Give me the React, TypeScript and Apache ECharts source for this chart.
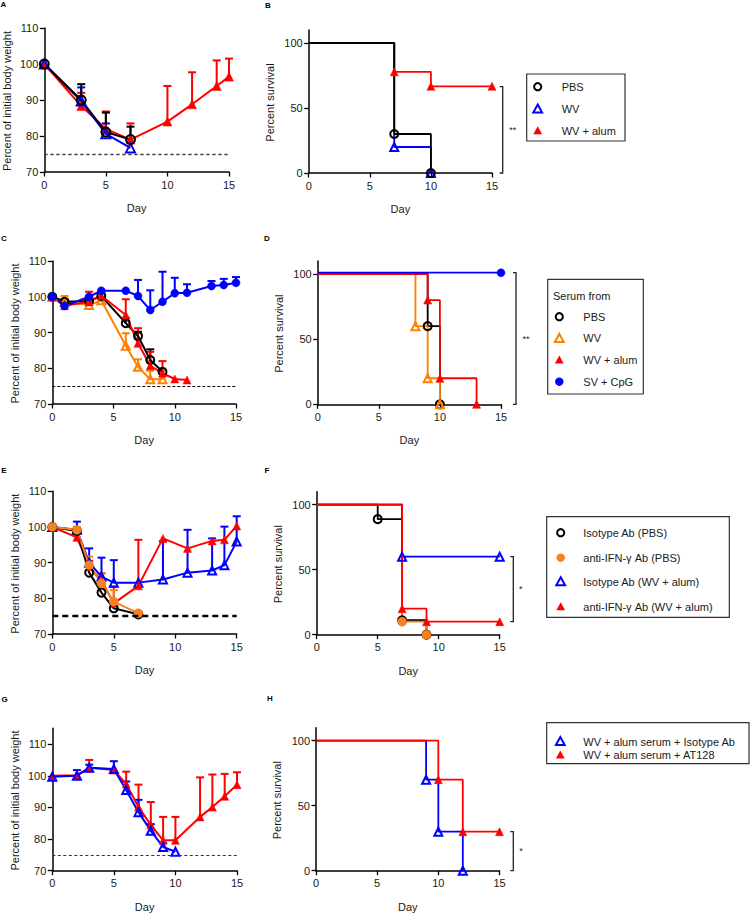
import React, { useEffect, useRef } from "react";
import * as echarts from "echarts";

const FONT = "'Liberation Sans', Arial, Helvetica, sans-serif";
const THRESHOLD = 75;

const C_BLACK = "#000000";
const C_BLUE = "#0000ff";
const C_RED = "#ff0000";
const C_ORANGE = "#ff8000";
const C_ORANGE_F = "#f58220";

// ---------- Panel A (body weight) ----------
const A_PBS_DAY = [0, 3, 5, 7];
const A_PBS_MEAN = [100, 90, 81.1, 79];
const A_PBS_UP = [100, 94.4, 86.5, 82.6];
const A_WV_DAY = [0, 3, 5, 7];
const A_WV_MEAN = [100, 89.7, 80.6, 76.7];
const A_WV_UP = [100, 93.5, 83.5, 76.7];
const A_ALUM_DAY = [0, 3, 5, 7, 10, 12, 14, 15];
const A_ALUM_MEAN = [100, 88.3, 82, 79, 84, 88.8, 93.9, 96.5];
const A_ALUM_UP = [100, 92, 86.8, 83.5, 93.9, 97.7, 101, 101.5];

// ---------- Panel B (survival) ----------
const B_GROUPS = ["PBS", "WV", "WV + alum"];
const B_PBS_DAY = [0, 7, 10];
const B_PBS_SURV = [100, 30, 0];
const B_WV_DAY = [0, 7, 10];
const B_WV_SURV = [100, 20, 0];
const B_ALUM_DAY = [0, 7, 10, 15];
const B_ALUM_SURV = [100, 77.8, 66.7, 66.7];

// ---------- Panel C (body weight) ----------
const C_PBS_DAY = [0, 1, 3, 4, 6, 7, 8, 9];
const C_PBS_MEAN = [100, 98.6, 98.8, 100.2, 92.6, 89, 82.3, 79];
const C_PBS_UP = [100, 99.3, 100, 101, 94, 90.2, 85.3, 79.5];
const C_WV_DAY = [0, 1, 3, 4, 6, 7, 8, 9];
const C_WV_MEAN = [100, 98.5, 97.7, 99, 86.3, 80.4, 76.9, 76.9];
const C_WV_UP = [100, 100.2, 98.8, 100, 89.8, 82.5, 79.3, 79.3];
const C_ALUM_DAY = [0, 1, 3, 4, 6, 7, 8, 9, 10, 11];
const C_ALUM_MEAN = [100, 97.5, 98.6, 100.3, 94.9, 87, 80.7, 78.6, 77, 76.7];
const C_ALUM_UP = [100, 99.2, 101.4, 101.5, 99.3, 91.2, 84.6, 82, 77, 76.7];
const C_CPG_DAY = [0, 1, 3, 4, 6, 7, 8, 9, 10, 11, 13, 14, 15];
const C_CPG_MEAN = [100, 97.4, 100, 101.7, 101.7, 100.2, 96.3, 98.6, 101, 101.1, 103, 103.3, 103.9];
const C_CPG_UP = [100, 97.4, 100, 101.9, 101.7, 104.7, 101.8, 107, 105.3, 103.5, 104.4, 105, 105.5];

// ---------- Panel D (survival) ----------
const D_TITLE = "Serum from";
const D_GROUPS = ["PBS", "WV", "WV + alum", "SV + CpG"];
const D_PBS_DAY = [0, 9, 10];
const D_PBS_SURV = [100, 60, 0];
const D_WV_DAY = [0, 8, 9, 10];
const D_WV_SURV = [100, 60, 20, 0];
const D_ALUM_DAY = [0, 9, 10, 13];
const D_ALUM_SURV = [100, 80, 20, 0];
const D_CPG_DAY = [0, 15];
const D_CPG_SURV = [101, 101];

// ---------- Panel E (body weight) ----------
const E_ISOPBS_DAY = [0, 2, 3, 4, 5, 7];
const E_ISOPBS_MEAN = [100, 98.9, 87.2, 81.6, 77.2, 75.5];
const E_ISOPBS_UP = [100, 98.9, 87.2, 81.6, 77.2, 75.5];
const E_ANTIPBS_DAY = [0, 2, 3, 4, 5, 7];
const E_ANTIPBS_MEAN = [100, 99.2, 89.3, 84.2, 79.1, 75.8];
const E_ANTIPBS_UP = [100, 100, 91.7, 87, 82.3, 75.8];
const E_ISOALUM_DAY = [0, 2, 3, 4, 5, 7, 9, 11, 13, 14, 15];
const E_ISOALUM_MEAN = [100, 99.2, 90, 86.1, 84.4, 84.4, 85.3, 87.2, 87.8, 89.3, 95.9];
const E_ISOALUM_UP = [100, 101.5, 94, 91.4, 90.7, 84.4, 96, 99.2, 96.8, 100.1, 103];
const E_ANTIALUM_DAY = [0, 2, 3, 4, 5, 7, 9, 11, 13, 14, 15];
const E_ANTIALUM_MEAN = [100, 97.1, 88.9, 84.9, 78.6, 83.5, 96.8, 94, 96.1, 96.4, 100.3];
const E_ANTIALUM_UP = [100, 97.1, 90.5, 87, 83.3, 96.4, 96.8, 94, 96.1, 96.4, 100.3];

// ---------- Panel F (survival) ----------
const F_GROUPS = ["Isotype Ab (PBS)", "anti-IFN-\u03b3 Ab (PBS)", "Isotype Ab (WV + alum)", "anti-IFN-\u03b3 Ab (WV + alum)"];
const F_ISOPBS_DAY = [0, 5, 7, 9];
const F_ISOPBS_SURV = [100, 88.9, 11.1, 0];
const F_ANTIPBS_DAY = [0, 7, 9];
const F_ANTIPBS_SURV = [100, 10, 0];
const F_ISOALUM_DAY = [0, 7, 15];
const F_ISOALUM_SURV = [100, 60, 60];
const F_ANTIALUM_DAY = [0, 7, 9, 15];
const F_ANTIALUM_SURV = [100, 20, 10, 10];

// ---------- Panel G (body weight) ----------
const G_ISO_DAY = [0, 2, 3, 5, 6, 7, 8, 9, 10];
const G_ISO_MEAN = [99.7, 100, 102.5, 102.1, 95.5, 88.5, 82.6, 77.5, 76];
const G_ISO_UP = [99.7, 101.8, 103.5, 104.6, 98.2, 92.4, 84.7, 78.8, 76];
const G_AT_DAY = [0, 2, 3, 5, 6, 7, 8, 9, 10, 12, 13, 14, 15];
const G_AT_MEAN = [100, 100.2, 102.5, 101.8, 97.4, 90.1, 84.5, 79.6, 79.6, 87, 90.1, 93.5, 97.2];
const G_AT_UP = [100, 100.2, 105, 102, 101.3, 97.2, 91.7, 87, 87, 99.5, 100.4, 100.6, 101.1];

// ---------- Panel H (survival) ----------
const H_GROUPS = ["WV + alum serum + Isotype Ab", "WV + alum serum + AT128"];
const H_ISO_DAY = [0, 9, 10, 12];
const H_ISO_SURV = [100, 70, 30, 0];
const H_AT_DAY = [0, 10, 12, 15];
const H_AT_SURV = [100, 70, 30, 30];

const WEIGHT_TICKS = [70, 80, 90, 100, 110];
const SURV_TICKS = [0, 50, 100];
const WEIGHT_TITLE = "Percent of initial body weight";
const SURV_TITLE = "Percent survival";
const X_TITLE = "Day";
const PANEL_LETTERS = ["A", "B", "C", "D", "E", "F", "G", "H"];
const SIG = ["**", "**", "*", "*"];

// ---------- layout ----------
const GRIDS = [
  { left: 44.3, top: 28, width: 184.7, height: 144 },
  { left: 308.7, top: 30, width: 183.3, height: 143 },
  { left: 52.3, top: 261, width: 183.7, height: 143 },
  { left: 317.7, top: 261, width: 183.3, height: 143.3 },
  { left: 52.3, top: 491.3, width: 184.4, height: 142.7 },
  { left: 316.7, top: 491.7, width: 183, height: 143 },
  { left: 52.3, top: 728.3, width: 184.7, height: 142.4 },
  { left: 316, top: 727.7, width: 183.5, height: 143 },
];
const LETTER_POS = [[3.5, 4.5], [268, 5.5], [4, 238.5], [267, 238.5], [4, 470.5], [267, 470], [4.5, 699.5], [270, 698.3]];

type Mk = { symbol: string; open: boolean; color: string };
const MK_PBS: Mk = { symbol: "circle", open: true, color: C_BLACK };
const MK_WV_BLUE: Mk = { symbol: "triangle", open: true, color: C_BLUE };
const MK_ALUM: Mk = { symbol: "triangle", open: false, color: C_RED };
const MK_WV_OR: Mk = { symbol: "triangle", open: true, color: C_ORANGE };
const MK_CPG: Mk = { symbol: "circle", open: false, color: C_BLUE };
const MK_ANTI_PBS: Mk = { symbol: "circle", open: false, color: C_ORANGE_F };

function itemStyleOf(m: Mk) {
  return m.open
    ? { color: "rgba(255,255,255,0)", borderColor: m.color, borderWidth: 2 }
    : { color: m.color, borderColor: m.color, borderWidth: 0.5 };
}

function errRender(color: string) {
  return (params: any, api: any) => {
    const x = api.value(0);
    const m = api.value(1);
    const u = api.value(2);
    if (u - m < 0.6) return { type: "group", children: [] };
    const p = api.coord([x, m]);
    const q = api.coord([x, u]);
    return {
      type: "group",
      children: [
        { type: "line", shape: { x1: p[0], y1: p[1], x2: q[0], y2: q[1] }, style: { stroke: color, lineWidth: 2 } },
        { type: "line", shape: { x1: q[0] - 4, y1: q[1], x2: q[0] + 4, y2: q[1] }, style: { stroke: color, lineWidth: 2 } },
      ],
    };
  };
}

function weightSeries(gi: number, days: number[], mean: number[], up: number[], m: Mk, size: number, dashed?: any) {
  const err = {
    type: "custom",
    xAxisIndex: gi,
    yAxisIndex: gi,
    z: 2,
    silent: true,
    clip: false,
    encode: { x: 0, y: 1 },
    data: days.map((d, i) => [d, mean[i], up[i]]),
    renderItem: errRender(m.color),
  };
  const line: any = {
    type: "line",
    xAxisIndex: gi,
    yAxisIndex: gi,
    z: 3,
    silent: true,
    clip: false,
    data: days.map((d, i) => [d, mean[i]]),
    symbol: m.symbol,
    symbolSize: size,
    itemStyle: itemStyleOf(m),
    lineStyle: { color: m.color, width: 2 },
  };
  if (dashed) {
    line.markLine = {
      silent: true,
      symbol: ["none", "none"],
      label: { show: false },
      lineStyle: dashed,
      data: [{ yAxis: THRESHOLD }],
    };
  }
  return [err, line];
}

function survSeries(gi: number, days: number[], surv: number[], m: Mk, size = 8) {
  return {
    type: "line",
    step: "end",
    xAxisIndex: gi,
    yAxisIndex: gi,
    z: 3,
    silent: true,
    clip: false,
    data: days.map((d, i) => (i === 0 ? { value: [d, surv[i]], symbol: "none" } : [d, surv[i]])),
    symbol: m.symbol,
    symbolSize: size,
    itemStyle: itemStyleOf(m),
    lineStyle: { color: m.color, width: 1.8 },
  };
}

const axisLineStyle = { show: true, onZero: false, lineStyle: { color: "#000", width: 1.5 } };
const axisTickStyle = { show: true, length: 4.5, lineStyle: { color: "#000", width: 1.3 } };
const labelStyle = { fontFamily: FONT, fontSize: 11, color: "#1a1a1a" };

function xAxisOf(gi: number) {
  return {
    type: "value",
    gridIndex: gi,
    min: 0,
    max: 15,
    interval: 5,
    axisLine: axisLineStyle,
    axisTick: axisTickStyle,
    axisLabel: { ...labelStyle, margin: 7 },
    splitLine: { show: false },
  };
}
function yAxisOf(gi: number, min: number, max: number, ticks: number[]) {
  return {
    type: "value",
    gridIndex: gi,
    min,
    max,
    axisLine: axisLineStyle,
    axisTick: { ...axisTickStyle, customValues: ticks },
    axisLabel: { ...labelStyle, margin: 6, customValues: ticks },
    splitLine: { show: false },
  };
}

function txt(x: number, y: number, text: string, extra: any = {}, rotation = 0) {
  return {
    type: "text",
    x,
    y,
    rotation,
    silent: true,
    style: {
      text,
      fontFamily: FONT,
      fontSize: 11,
      fill: "#1a1a1a",
      align: "center",
      verticalAlign: "middle",
      ...extra,
    },
  };
}

function legendMarker(x: number, y: number, m: Mk) {
  if (m.symbol === "circle") {
    return {
      type: "circle",
      silent: true,
      shape: { cx: x, cy: y, r: m.open ? 3.6 : 4.2 },
      style: m.open ? { fill: "none", stroke: m.color, lineWidth: 2 } : { fill: m.color },
    };
  }
  return {
    type: "polygon",
    silent: true,
    shape: { points: [[x, y - 4.4], [x + 4.4, y + 3.6], [x - 4.4, y + 3.6]] },
    style: m.open ? { fill: "none", stroke: m.color, lineWidth: 2, lineJoin: "miter" } : { fill: m.color },
  };
}

function legendBox(box: number[], rows: number[], markerX: number, textX: number, names: string[], marks: Mk[]) {
  const els: any[] = [
    { type: "rect", silent: true, shape: { x: box[0], y: box[1], width: box[2], height: box[3] }, style: { fill: "#fff", stroke: "#333", lineWidth: 1.2 } },
  ];
  names.forEach((n, i) => {
    els.push(legendMarker(markerX, rows[i], marks[i]));
    els.push(txt(textX, rows[i], n, { align: "left" }));
  });
  return els;
}

function bracket(x: number, y1: number, y2: number, label: string, labelX: number) {
  return [
    {
      type: "polyline",
      silent: true,
      shape: { points: [[x - 3, y1], [x, y1], [x, y2], [x - 3, y2]] },
      style: { stroke: "#222", lineWidth: 1.3, fill: "none" },
    },
    txt(labelX, (y1 + y2) / 2, label, { fontSize: 9 }),
  ];
}

function buildOption() {
  const grids = GRIDS.map((g) => ({ ...g, containLabel: false, outerBoundsMode: "none" }));
  const xAxes = GRIDS.map((_, i) => xAxisOf(i));
  const yAxes = GRIDS.map((_, i) => {
    const isSurv = i % 2 === 1;
    if (isSurv) return yAxisOf(i, 0, 110, SURV_TICKS);
    return yAxisOf(i, 70, i === 6 ? 115 : 110, WEIGHT_TICKS);
  });

  const dashA = { type: [3.3, 2.7], color: "#444", width: 1.3 };
  const dashC = { type: [3, 2], color: "#000", width: 1 };
  const dashE = { type: [6, 4], color: "#000", width: 2.3 };
  const dashG = { type: [3, 2.5], color: "#333", width: 1.2 };

  const series: any[] = [
    // A
    ...weightSeries(0, A_ALUM_DAY, A_ALUM_MEAN, A_ALUM_UP, MK_ALUM, 9, dashA),
    ...weightSeries(0, A_WV_DAY, A_WV_MEAN, A_WV_UP, MK_WV_BLUE, 9),
    ...weightSeries(0, A_PBS_DAY, A_PBS_MEAN, A_PBS_UP, MK_PBS, 9),
    // B
    survSeries(1, B_ALUM_DAY, B_ALUM_SURV, MK_ALUM),
    survSeries(1, B_WV_DAY, B_WV_SURV, MK_WV_BLUE),
    survSeries(1, B_PBS_DAY, B_PBS_SURV, MK_PBS),
    // C
    ...weightSeries(2, C_WV_DAY, C_WV_MEAN, C_WV_UP, MK_WV_OR, 8, dashC),
    ...weightSeries(2, C_PBS_DAY, C_PBS_MEAN, C_PBS_UP, MK_PBS, 8),
    ...weightSeries(2, C_ALUM_DAY, C_ALUM_MEAN, C_ALUM_UP, MK_ALUM, 8),
    ...weightSeries(2, C_CPG_DAY, C_CPG_MEAN, C_CPG_UP, MK_CPG, 8),
    // D
    survSeries(3, D_PBS_DAY, D_PBS_SURV, MK_PBS),
    survSeries(3, D_WV_DAY, D_WV_SURV, MK_WV_OR),
    survSeries(3, D_ALUM_DAY, D_ALUM_SURV, MK_ALUM),
    survSeries(3, D_CPG_DAY, D_CPG_SURV, MK_CPG),
    // E
    ...weightSeries(4, E_ISOALUM_DAY, E_ISOALUM_MEAN, E_ISOALUM_UP, MK_WV_BLUE, 8, dashE),
    ...weightSeries(4, E_ANTIALUM_DAY, E_ANTIALUM_MEAN, E_ANTIALUM_UP, MK_ALUM, 8),
    ...weightSeries(4, E_ISOPBS_DAY, E_ISOPBS_MEAN, E_ISOPBS_UP, MK_PBS, 8),
    ...weightSeries(4, E_ANTIPBS_DAY, E_ANTIPBS_MEAN, E_ANTIPBS_UP, MK_ANTI_PBS, 9),
    // F
    survSeries(5, F_ISOPBS_DAY, F_ISOPBS_SURV, MK_PBS),
    survSeries(5, F_ANTIPBS_DAY, F_ANTIPBS_SURV, MK_ANTI_PBS, 9),
    survSeries(5, F_ISOALUM_DAY, F_ISOALUM_SURV, MK_WV_BLUE),
    survSeries(5, F_ANTIALUM_DAY, F_ANTIALUM_SURV, MK_ALUM),
    // G
    ...weightSeries(6, G_AT_DAY, G_AT_MEAN, G_AT_UP, MK_ALUM, 8, dashG),
    ...weightSeries(6, G_ISO_DAY, G_ISO_MEAN, G_ISO_UP, MK_WV_BLUE, 8),
    // H
    survSeries(7, H_ISO_DAY, H_ISO_SURV, MK_WV_BLUE),
    survSeries(7, H_AT_DAY, H_AT_SURV, MK_ALUM),
  ];

  const els: any[] = [];
  PANEL_LETTERS.forEach((l, i) => {
    els.push(txt(LETTER_POS[i][0], LETTER_POS[i][1], l, { fontSize: 8, fontWeight: "bold", fill: "#000" }));
  });
  GRIDS.forEach((g, i) => {
    const isSurv = i % 2 === 1;
    els.push(txt(g.left + g.width / 2, g.top + g.height + 36, X_TITLE));
    const off = isSurv ? 38.8 : 37.3;
    els.push(txt(g.left - off, g.top + g.height / 2 + 1, isSurv ? SURV_TITLE : WEIGHT_TITLE, {}, Math.PI / 2));
  });
  els.push(...legendBox([526.7, 74, 98.3, 67], [86.7, 109, 130.7], 537.7, 561.7, B_GROUPS, [MK_PBS, MK_WV_BLUE, MK_ALUM]));
  els.push(...legendBox([547.7, 279.3, 95.6, 114.7], [316.7, 338.3, 360, 381.7], 559.3, 583.3, D_GROUPS, [MK_PBS, MK_WV_OR, MK_ALUM, MK_CPG]));
  els.push(txt(553, 295.7, D_TITLE, { align: "left" }));
  els.push(...legendBox([546.7, 516.7, 182.6, 100.6], [532.7, 557.7, 581.7, 606.7], 560.7, 583.3, F_GROUPS, [MK_PBS, MK_ANTI_PBS, MK_WV_BLUE, MK_ALUM]));
  els.push(...legendBox([546.7, 722.7, 202.3, 41], [741.5, 755], 560.3, 583.3, H_GROUPS, [MK_WV_BLUE, MK_ALUM]));
  els.push(...bracket(502.7, 86.7, 173, SIG[0], 512.7));
  els.push(...bracket(516, 272.7, 404.3, SIG[1], 526));
  els.push(...bracket(513.3, 556.7, 621.7, SIG[2], 520.7));
  els.push(...bracket(513.3, 831.7, 870.7, SIG[3], 521));

  return {
    animation: false,
    backgroundColor: "#ffffff",
    textStyle: { fontFamily: FONT },
    grid: grids,
    xAxis: xAxes,
    yAxis: yAxes,
    series,
    graphic: { elements: els },
  };
}

export default function App() {
  const ref = useRef<HTMLDivElement>(null);
  useEffect(() => {
    if (!ref.current) return;
    const chart = echarts.init(ref.current, null, { renderer: "svg" });
    chart.setOption(buildOption() as any);
    return () => chart.dispose();
  }, []);
  return (
    <div
      ref={ref}
      style={{ position: "fixed", left: 0, top: 0, width: 750, height: 914, background: "#fff" }}
    />
  );
}
